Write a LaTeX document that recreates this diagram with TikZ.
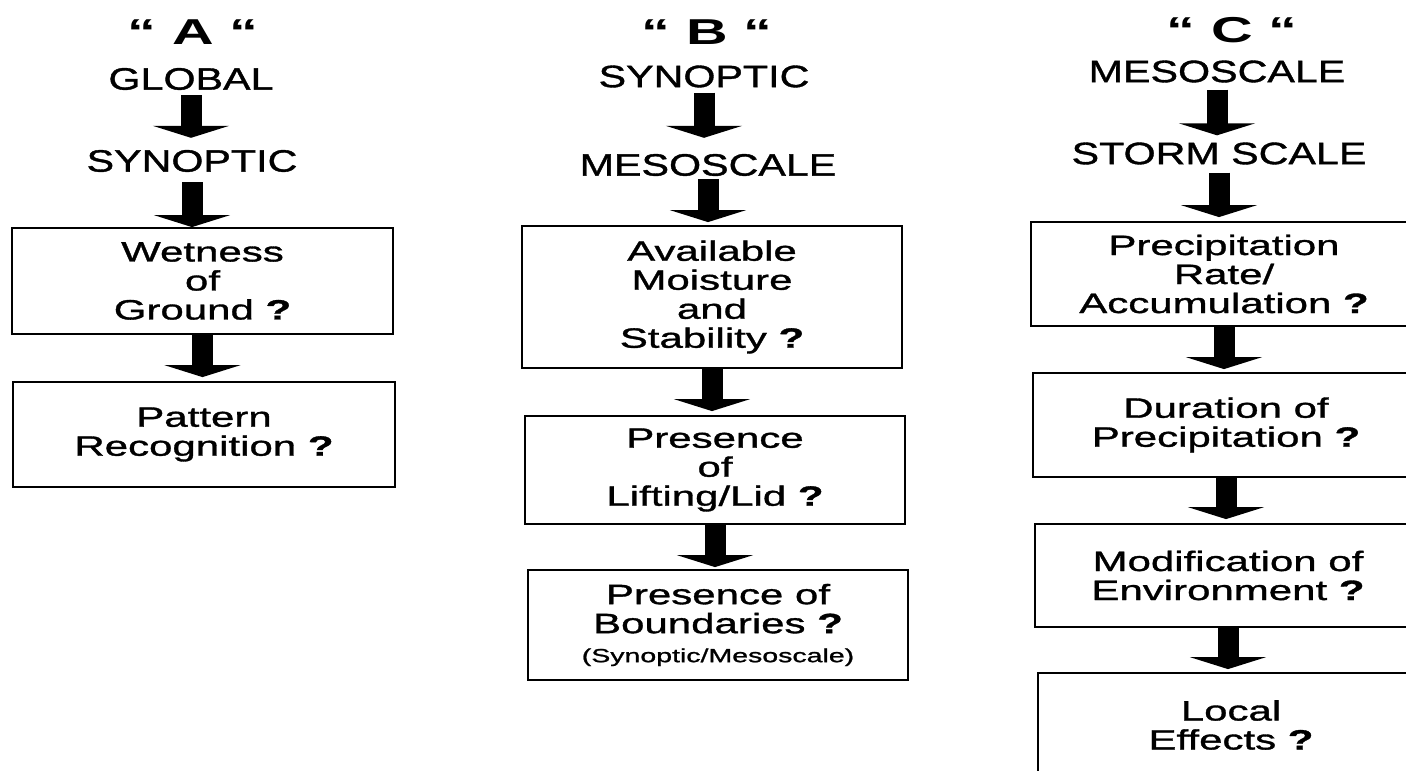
\documentclass[tikz,border=0pt]{standalone}
\usepackage{fontspec}
\usetikzlibrary{arrows.meta}
\newfontfamily\titlefont{Liberation Sans}[FakeStretch=1.6]
\newfontfamily\headfont{Liberation Sans}[FakeStretch=1.33,FakeBold=1.2]
\newfontfamily\boxfont{Liberation Sans}[FakeStretch=1.5,FakeBold=1.2]

\begin{document}
\begin{tikzpicture}[x=1pt,y=-1pt,
  title/.style={font=\titlefont\bfseries\fontsize{36}{36}\selectfont, inner sep=0pt},
  level/.style={font=\headfont\fontsize{31}{31}\selectfont, inner sep=0pt},
  qbox/.style={draw, line width=1.8pt, align=center, inner sep=0pt,
    font=\boxfont\fontsize{28}{29}\selectfont},
  down/.style={line width=21pt, -{Triangle[width=76pt,length=12pt]}}]
\useasboundingbox (0,0) rectangle (1406,771);
\clip (0,0) rectangle (1406,771);
% column A
\node[title] (tA) at (193,32) {“ A “};
\node[level] (globA) at (191,79) {GLOBAL};
\node[level] (synA) at (192,161) {SYNOPTIC};
\node[qbox, minimum width=381, minimum height=106] (wet) at (202.5,281) {Wetness\\of\\Ground {\bfseries ?}};
\node[qbox, minimum width=382, minimum height=105] (patt) at (204,434.5) {Pattern\\Recognition {\bfseries ?}};
\draw[down, shorten <=5pt, shorten >=12pt] (globA.south) -- (globA.south |- synA.north);
\draw[down, shorten <=10pt] (synA.south) -- (synA.south |- wet.north);
\draw[down, shorten >=4pt] (wet.south) -- (wet.south |- patt.north);
% column B
\node[title] (tB) at (707,32) {“ B “};
\node[level] (synB) at (704,76.5) {SYNOPTIC};
\node[level] (mesoB) at (708,165) {MESOSCALE};
\node[qbox, minimum width=380, minimum height=142] (moist) at (712,297) {Available\\Moisture\\and\\Stability {\bfseries ?}};
\node[qbox, minimum width=380, minimum height=108] (lift) at (715,470) {Presence\\of\\Lifting/Lid {\bfseries ?}};
\node[qbox, minimum width=380, minimum height=110] (bound) at (718,625) {Presence of\\Boundaries {\bfseries ?}\\{\fontsize{19}{20}\selectfont(Synoptic/Mesoscale)}};
\draw[down, shorten <=5pt, shorten >=16pt] (synB.south) -- (synB.south |- mesoB.north);
\draw[down, shorten <=3pt, shorten >=3pt] (mesoB.south) -- (mesoB.south |- moist.north);
\draw[down, shorten >=4pt] (moist.south) -- (moist.south |- lift.north);
\draw[down, shorten >=2pt] (lift.south) -- (lift.south |- bound.north);
% column C
\node[title] (tC) at (1232,30) {“ C “};
\node[level] (mesoC) at (1217,71.5) {MESOSCALE};
\node[level] (storm) at (1219,153.5) {STORM SCALE};
\node[qbox, minimum width=386, minimum height=104] (rate) at (1224,274) {Precipitation\\Rate/\\Accumulation {\bfseries ?}};
\node[qbox, minimum width=386, minimum height=104] (dur) at (1226,425) {Duration of\\Precipitation {\bfseries ?}};
\node[qbox, minimum width=386, minimum height=103] (env) at (1228,575.5) {Modification of\\Environment {\bfseries ?}};
\node[qbox, minimum width=386, minimum height=104] (local) at (1231,725) {Local\\Effects {\bfseries ?}};
\draw[down, shorten <=7pt, shorten >=7pt] (mesoC.south) -- (mesoC.south |- storm.north);
\draw[down, shorten <=8pt, shorten >=4pt] (storm.south) -- (storm.south |- rate.north);
\draw[down, shorten >=3pt] (rate.south) -- (rate.south |- dur.north);
\draw[down, shorten >=4pt] (dur.south) -- (dur.south |- env.north);
\draw[down, shorten >=3pt] (env.south) -- (env.south |- local.north);
\end{tikzpicture}
\end{document}
